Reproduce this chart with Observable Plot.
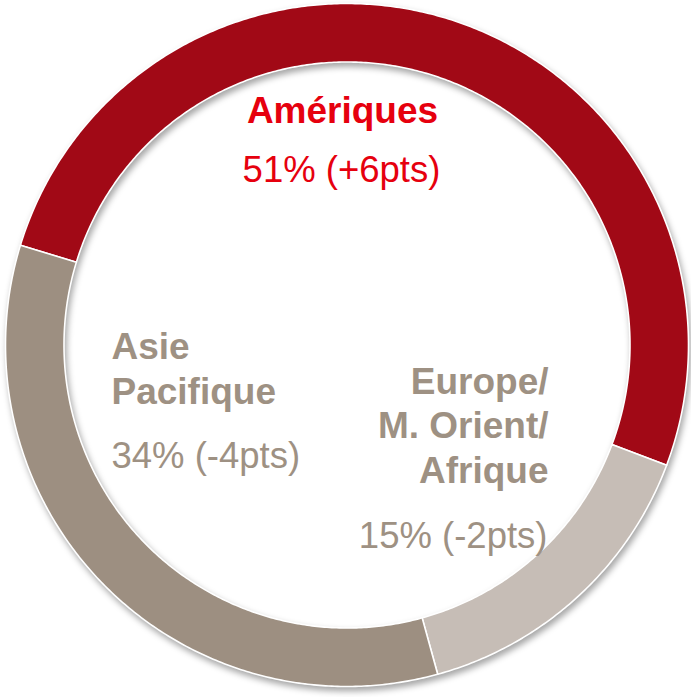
<!DOCTYPE html>
<html><head><meta charset="utf-8">
<script src="https://cdn.jsdelivr.net/npm/d3@7"></script>
<script src="https://cdn.jsdelivr.net/npm/@observablehq/plot@0.6"></script>
<style>
html,body{margin:0;padding:0;background:#fff;}
#chart svg{display:block;}
#chart svg g[aria-label="line"]{filter: drop-shadow(2px 4px 3px rgba(0,0,0,0.35));}
</style></head><body><div id="chart"></div>
<script>
// ---- data ----
const regions = ["Amériques", "Europe/\nM. Orient/\nAfrique", "Asie\nPacifique"];
const shares = [51, 15, 34];
const changes = ["+6pts", "-2pts", "-4pts"];

// ---- style / layout ----
const ringColors = ["#a10916", "#c6bdb6", "#9d8f81"];
const textColors = ["#e6000e", "#9e9183", "#9e9183"];
const W = 691, H = 697;
const geom = {cx: 346.5, cy: 344.5, outer: 341.5, inner: 283, startDeg: -73};
// label anchors: [x, baseline of last line, anchor]
const nameLayout = [[342, 122, "middle"], [548, 482, "end"], [111, 403, "start"]];
const pctLayout  = [[341, 181, "middle"], [547, 547, "end"], [111, 467, "start"]];

const data = regions.map((r, i) => ({region: r, share: shares[i], change: changes[i], i}));

const toRad = d => d * Math.PI / 180;
const pie = d3.pie().sort(null).value(d => d.share)
  .startAngle(toRad(geom.startDeg)).endAngle(toRad(geom.startDeg + 360));
const arcs = pie(data);

const pts = [];
for (const a of arcs) {
  const n = Math.max(2, Math.ceil((a.endAngle - a.startAngle) / (Math.PI / 360)));
  for (let k = 0; k <= n; k++) {
    const t = a.startAngle + (a.endAngle - a.startAngle) * k / n;
    pts.push({region: a.data.region, x: geom.cx + geom.outer * Math.sin(t), y: geom.cy - geom.outer * Math.cos(t)});
  }
  for (let k = n; k >= 0; k--) {
    const t = a.startAngle + (a.endAngle - a.startAngle) * k / n;
    pts.push({region: a.data.region, x: geom.cx + geom.inner * Math.sin(t), y: geom.cy - geom.inner * Math.cos(t)});
  }
}

const nameRows = data.map((d, i) => ({text: d.region, x: nameLayout[i][0], y: nameLayout[i][1], anchor: nameLayout[i][2], color: textColors[i]}));
const pctRows = data.map((d, i) => ({text: `${d.share}% (${d.change})`, x: pctLayout[i][0], y: pctLayout[i][1], anchor: pctLayout[i][2], color: textColors[i]}));

const textMarks = [];
for (const anchor of ["start", "middle", "end"]) {
  textMarks.push(Plot.text(nameRows.filter(d => d.anchor === anchor), {
    x: "x", y: "y", text: "text", fill: d => d.color, textAnchor: anchor,
    lineAnchor: "bottom", lineHeight: 1.19, fontSize: 37, fontWeight: "bold",
    fontFamily: "Liberation Sans, Arial, sans-serif"
  }));
  textMarks.push(Plot.text(pctRows.filter(d => d.anchor === anchor), {
    x: "x", y: "y", text: "text", fill: d => d.color, textAnchor: anchor,
    lineAnchor: "bottom", fontSize: 36.5,
    fontFamily: "Liberation Sans, Arial, sans-serif"
  }));
}

const chart = Plot.plot({
  width: W, height: H,
  margin: 0,
  style: {background: "#fff", overflow: "visible"},
  x: {domain: [0, W], range: [0, W], axis: null},
  y: {domain: [0, H], range: [0, H], axis: null},
  color: {domain: regions, range: ringColors},
  marks: [
    Plot.line(pts, {x: "x", y: "y", z: "region", fill: "region", stroke: "white", strokeWidth: 1.6, curve: "linear-closed"}),
    ...textMarks
  ]
});
document.getElementById("chart").appendChild(chart);
</script>
</body></html>
